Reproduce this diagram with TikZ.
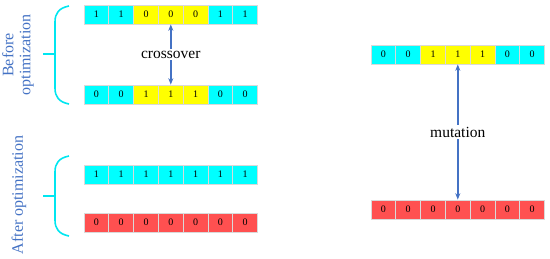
\documentclass[tikz,border=0pt]{standalone}
\usepackage{fontspec}
\setmainfont{Liberation Serif}
\usetikzlibrary{arrows.meta}
\definecolor{cy}{RGB}{0,255,255}
\definecolor{ye}{RGB}{255,255,0}
\definecolor{rd}{RGB}{255,80,80}
\definecolor{arr}{RGB}{68,114,196}
\definecolor{lbl}{RGB}{68,114,196}
\definecolor{brc}{RGB}{0,230,240}
\tikzset{
  cell/.style={draw=black!15, line width=0.7pt, minimum width=24.8pt, minimum height=19pt, inner sep=0pt, font=\fontsize{10}{10}\selectfont, anchor=center},
  conn/.style={draw=arr, line width=1.4pt, {Stealth[length=6.5pt,width=5pt]}-{Stealth[length=6.5pt,width=5pt]}},
  oplabel/.style={fill=white, inner sep=2pt, font=\fontsize{15.5}{15.5}\selectfont},
  brace/.style={draw=brc, line width=1.6pt},
  side/.style={text=lbl, rotate=90, align=center, font=\fontsize{16}{17}\selectfont}
}
\newcommand{\cellrow}[4]{% name, x0, ymid, list
  \foreach \f/\t [count=\i] in {#4} {
    \node[cell, fill=\f] (#1\i) at ({#2+(\i-0.5)*24.8}, #3) {\t};
  }
}
\begin{document}
\begin{tikzpicture}[x=1pt,y=-1pt]
\useasboundingbox (0,0) rectangle (550,258);
% left rows
\cellrow{a}{84}{14.5}{cy/1,cy/1,ye/0,ye/0,ye/0,cy/1,cy/1}
\cellrow{b}{84}{94.5}{cy/0,cy/0,ye/1,ye/1,ye/1,cy/0,cy/0}
\cellrow{c}{84}{174.5}{cy/1,cy/1,cy/1,cy/1,cy/1,cy/1,cy/1}
\cellrow{d}{84}{222.5}{rd/0,rd/0,rd/0,rd/0,rd/0,rd/0,rd/0}
% right rows
\cellrow{r}{371}{54.5}{cy/0,cy/0,ye/1,ye/1,ye/1,cy/0,cy/0}
\cellrow{s}{371}{209.5}{rd/0,rd/0,rd/0,rd/0,rd/0,rd/0,rd/0}
% connectors
\draw[conn] (a4.south) -- node[oplabel] (xo) {crossover} (b4.north);
\draw[conn] (r4.south) -- node[oplabel] (mu) {mutation} (s4.north);
% braces
\draw[brace] (69,6) .. controls (59,8) and (55,13) .. (55,22) -- (55,88) .. controls (55,97) and (59,102) .. (69,104);
\draw[brace] (43,54) -- (55,54);
\draw[brace] (69,156) .. controls (59,158) and (55,163) .. (55,172) -- (55,220) .. controls (55,229) and (59,234) .. (69,236);
\draw[brace] (43,196) -- (55,196);
% side labels
\node[side] (before) at (18,55) {Before\\optimization};
\node[side] (after) at (19,195) {After optimization};
\end{tikzpicture}
\end{document}
